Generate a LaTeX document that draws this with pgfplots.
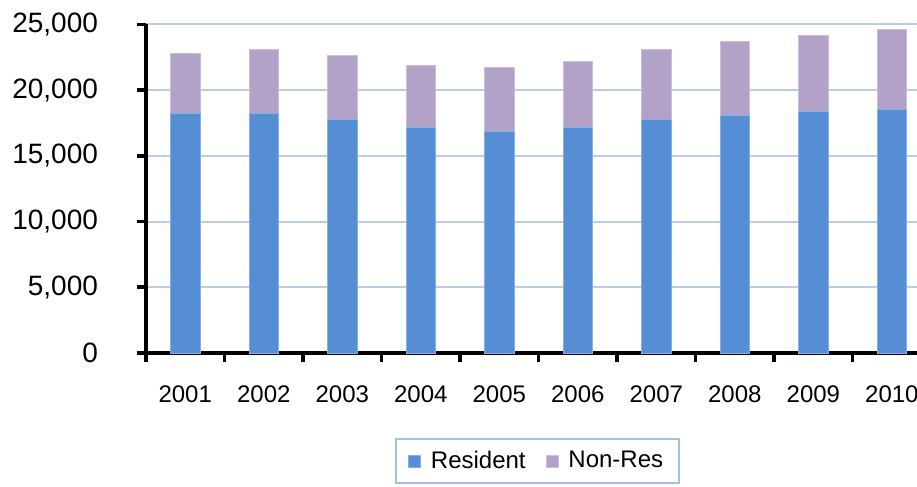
\documentclass[border=0pt]{standalone}
\usepackage{pgfplots}
\pgfplotsset{compat=1.18}
\usepackage{fontspec}
\setmainfont{Liberation Sans}
\definecolor{resblue}{RGB}{85,142,213}
\definecolor{nonres}{RGB}{179,162,199}
\definecolor{gridblue}{RGB}{185,205,235}
\definecolor{legborder}{RGB}{165,190,228}
\begin{document}
\begin{tikzpicture}
\useasboundingbox (-73pt,-67pt) rectangle (385.5pt,176.5pt);
\begin{axis}[
  at={(0pt,0pt)}, anchor=south west,
  scale only axis, width=385.5pt, height=164.25pt,
  ybar stacked, bar width=0.375,
  xmin=-0.5, xmax=9.32, ymin=0, ymax=25000,
  axis lines*=left,
  axis line style={line width=1.8pt, black},
  tick style={draw=black, line width=1.8pt},
  major tick style={draw=black, line width=1.8pt},
  tick align=outside, major tick length=4.5pt,
  xtick={-0.5,0.5,...,8.5},
  xticklabels=\empty,
  extra x ticks={0,...,9},
  extra x tick labels={2001,2002,2003,2004,2005,2006,2007,2008,2009,2010},
  extra x tick style={major tick length=0pt,
    xticklabel style={font=\fontsize{12}{14}\selectfont, yshift=-13pt}},
  ytick={0,5000,...,25000},
  ymajorgrids, grid style={gridblue, line width=1pt},
  scaled y ticks=false,
  clip=false,
  /pgf/number format/.cd, 1000 sep={,}, assume math mode=true,
  /pgfplots/.cd,
  yticklabel style={font=\fontsize{14}{16}\selectfont, xshift=-16pt},
  legend style={at={(0.508,-0.259)}, anchor=north, legend columns=2,
    draw=legborder, line width=0.8pt, font=\fontsize{12}{14}\selectfont,
    inner xsep=6pt, inner ysep=4pt,
    /tikz/every odd column/.append style={column sep=3pt},
    /tikz/every even column/.append style={column sep=8pt}},
  legend image code/.code={\fill[#1] (0pt,-3pt) rectangle (6pt,3pt);},
]
\addplot[fill=resblue, draw=resblue!70!white, line width=0.4pt] coordinates {
(0,18220) (1,18220) (2,17760) (3,17150) (4,16880)
(5,17150) (6,17760) (7,18100) (8,18370) (9,18520)};
\addlegendentry{Resident}
\addplot[fill=nonres, draw=nonres!70!white, line width=0.4pt] coordinates {
(0,4580) (1,4880) (2,4900) (3,4750) (4,4840)
(5,5020) (6,5340) (7,5630) (8,5810) (9,6120)};
\addlegendentry{Non-Res}
\draw[line width=1.8pt, black] (rel axis cs:0,0) -- (rel axis cs:0,1);
\end{axis}
\end{tikzpicture}
\end{document}
